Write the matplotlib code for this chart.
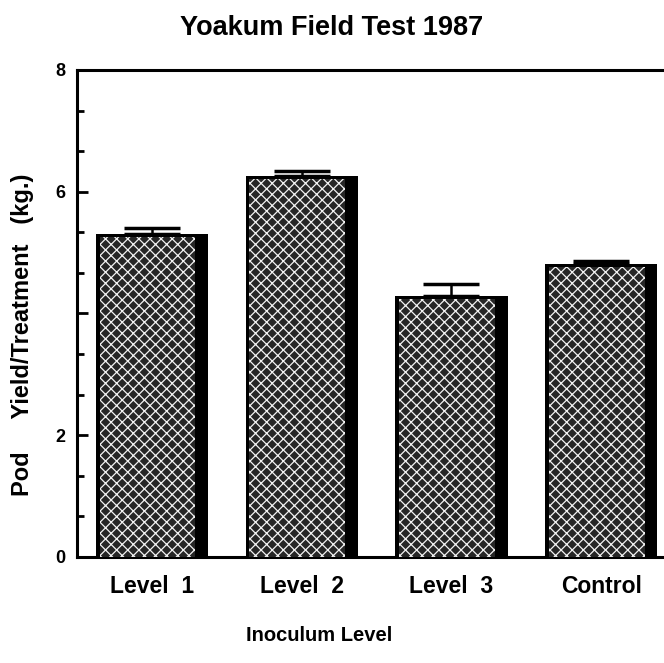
import matplotlib
matplotlib.use("Agg")
import matplotlib.pyplot as plt
from matplotlib.ticker import MultipleLocator
import numpy as np

# values
levels = ["Level  1", "Level  2", "Level  3", "Control"]
pod_yield = [5.30, 6.26, 4.29, 4.81]
yield_err = [0.11, 0.08, 0.19, 0.05]

plt.rcParams["font.family"] = ["Liberation Sans", "DejaVu Sans"]
plt.rcParams["hatch.linewidth"] = 0.9

fig = plt.figure(figsize=(6.64, 6.63), dpi=100)
ax = fig.add_axes([0.1155, 0.160, 0.9026, 0.7345])

x = np.arange(len(levels))
width = 0.75
shadow = 0.07

# dark body (outline + right-hand shadow)
ax.bar(x, pod_yield, width=width, color="black", zorder=2)
# stippled face
ax.bar(x - shadow / 2 + 0.005, np.array(pod_yield) - 0.05, width=width - shadow - 0.04,
       color="#262626", edgecolor="#f2f2f2", linewidth=0, hatch="xxx", zorder=3)
# upper error bars only
ax.errorbar(x, pod_yield, yerr=[np.zeros(len(x)), yield_err], fmt="none",
            ecolor="black", elinewidth=1.8, capsize=20, capthick=2.5, zorder=4)

ax.set_xlim(-0.503, 3.5)
ax.set_ylim(0, 8)
ax.set_yticks([0, 2, 4, 6, 8])
ax.set_yticklabels(["0", "2", "", "6", "8"], fontsize=13, fontweight="bold")
ax.yaxis.set_minor_locator(MultipleLocator(2 / 3))
ax.tick_params(axis="y", which="major", direction="in", length=8, width=2, pad=8)
ax.tick_params(axis="y", which="minor", direction="in", length=5, width=2)
ax.set_xticks(x)
ax.set_xticklabels(levels, fontsize=16.5, fontweight="bold")
ax.tick_params(axis="x", length=0, pad=13)

for side in ["left", "bottom", "top", "right"]:
    ax.spines[side].set_linewidth(2.2)

fig.text(0.50, 0.958, "Yoakum Field Test 1987", ha="center", va="center",
         fontsize=19.5, fontweight="semibold")
fig.text(0.034, 0.495, "Pod     Yield/Treatment   (kg.)", ha="center", va="center",
         rotation=90, fontsize=17, fontweight="bold")
fig.text(0.48, 0.041, "Inoculum Level", ha="center", va="center",
         fontsize=14.5, fontweight="semibold")

fig.savefig("out.png", dpi=100)
